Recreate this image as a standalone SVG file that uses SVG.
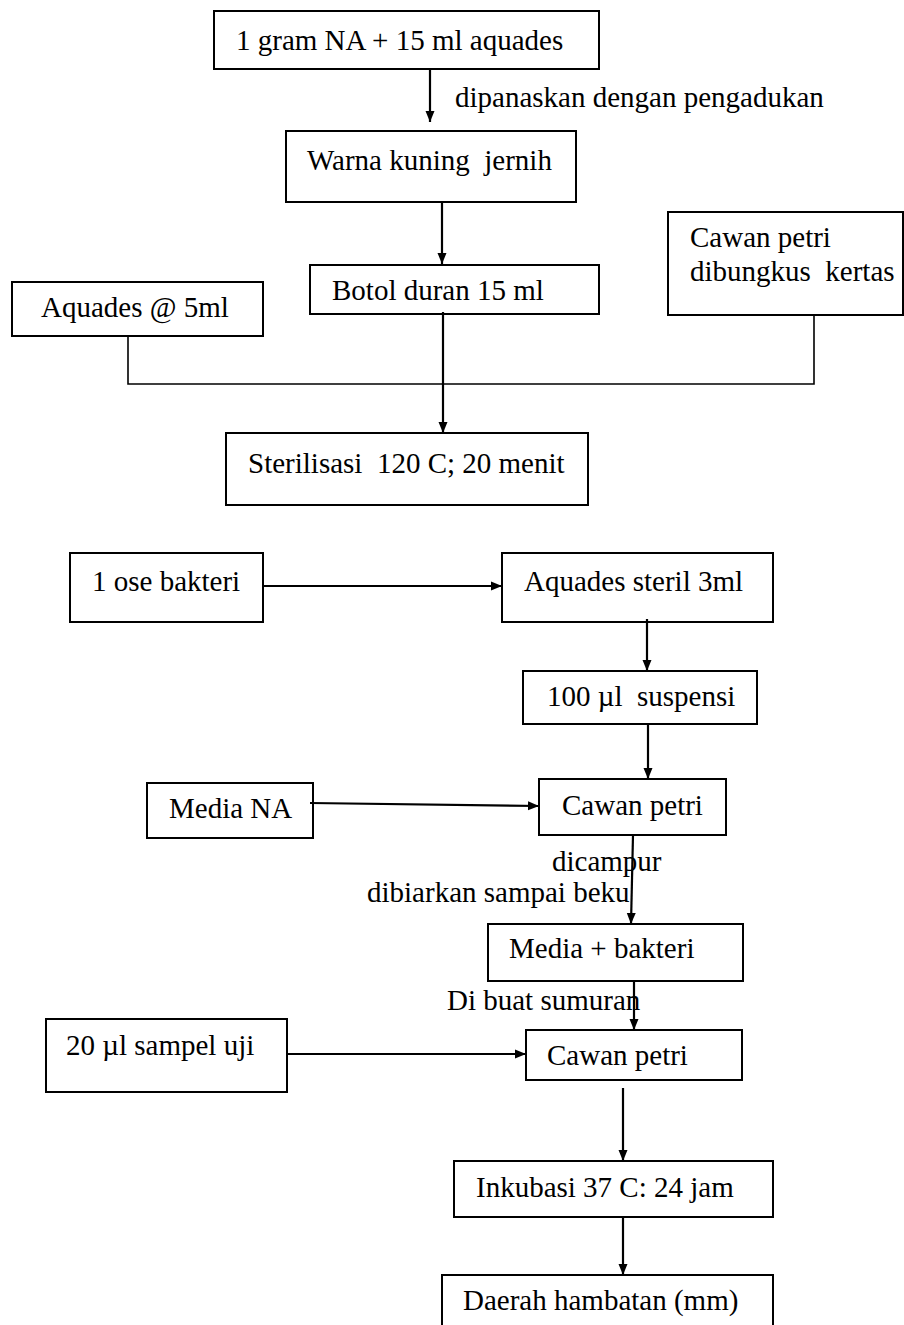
<svg xmlns="http://www.w3.org/2000/svg" width="904" height="1325" viewBox="0 0 904 1325">
<style>
  .box { fill: #ffffff; stroke: #000000; stroke-width: 2; }
  .t { font-family: "Liberation Serif", "Times New Roman", serif; font-size: 29px; fill: #000000; }
  .c { fill: none; stroke: #000000; stroke-width: 2.2; }
  .cl { fill: none; stroke: #000000; stroke-width: 1.6; }
</style>
<defs>
  <marker id="arr" markerUnits="userSpaceOnUse" markerWidth="12" markerHeight="10" refX="11" refY="5" orient="auto">
    <path d="M0,0.5 L11,5 L0,9.5 z" fill="#000000"/>
  </marker>
</defs>
<rect width="904" height="1325" fill="#ffffff"/>

<g id="n1"><rect class="box" x="214" y="11" width="385" height="58"/><text class="t" x="236" y="50">1 gram NA + 15 ml aquades</text></g>
<g id="n2"><rect class="box" x="286" y="131" width="290" height="71"/><text class="t" x="307" y="170" xml:space="preserve">Warna kuning  jernih</text></g>
<g id="n3"><rect class="box" x="310" y="265" width="289" height="49"/><text class="t" x="332" y="300">Botol duran 15 ml</text></g>
<g id="n4"><rect class="box" x="12" y="282" width="251" height="54"/><text class="t" x="41" y="317">Aquades @ 5ml</text></g>
<g id="n5"><rect class="box" x="668" y="212" width="235" height="103"/><text class="t" x="690" y="247">Cawan petri</text><text class="t" x="690" y="281" xml:space="preserve">dibungkus  kertas</text></g>
<g id="n6"><rect class="box" x="226" y="433" width="362" height="72"/><text class="t" x="248" y="473" xml:space="preserve">Sterilisasi  120 C; 20 menit</text></g>
<g id="n7"><rect class="box" x="70" y="553" width="193" height="69"/><text class="t" x="92" y="591">1 ose bakteri</text></g>
<g id="n8"><rect class="box" x="502" y="553" width="271" height="69"/><text class="t" x="524" y="591">Aquades steril 3ml</text></g>
<g id="n9"><rect class="box" x="523" y="671" width="234" height="53"/><text class="t" x="547" y="706" xml:space="preserve">100 µl  suspensi</text></g>
<g id="n10"><rect class="box" x="147" y="783" width="166" height="55"/><text class="t" x="169" y="818">Media NA</text></g>
<g id="n11"><rect class="box" x="539" y="779" width="187" height="56"/><text class="t" x="562" y="815">Cawan petri</text></g>
<g id="n12"><rect class="box" x="488" y="924" width="255" height="57"/><text class="t" x="509" y="958">Media + bakteri</text></g>
<g id="n13"><rect class="box" x="46" y="1019" width="241" height="73"/><text class="t" x="66" y="1055">20 µl sampel uji</text></g>
<g id="n14"><rect class="box" x="526" y="1030" width="216" height="50"/><text class="t" x="547" y="1065">Cawan petri</text></g>
<g id="n15"><rect class="box" x="454" y="1161" width="319" height="56"/><text class="t" x="476" y="1197">Inkubasi 37 C: 24 jam</text></g>
<g id="n16"><rect class="box" x="442" y="1275" width="331" height="60"/><text class="t" x="463" y="1310">Daerah hambatan (mm)</text></g>

<g id="connectors">
  <line class="c" x1="430" y1="69" x2="430" y2="122" marker-end="url(#arr)"/>
  <line class="c" x1="442" y1="202" x2="442" y2="264" marker-end="url(#arr)"/>
  <polyline class="cl" points="128,336 128,384 814,384 814,315"/>
  <line class="c" x1="443" y1="312" x2="443" y2="433" marker-end="url(#arr)"/>
  <line class="c" x1="263" y1="586" x2="502" y2="586" marker-end="url(#arr)"/>
  <line class="c" x1="647" y1="619" x2="647" y2="671" marker-end="url(#arr)"/>
  <line class="c" x1="648" y1="724" x2="648" y2="779" marker-end="url(#arr)"/>
  <line class="c" x1="310" y1="803" x2="539" y2="806" marker-end="url(#arr)"/>
  <line class="c" x1="633" y1="835" x2="631" y2="924" marker-end="url(#arr)"/>
  <line class="c" x1="634" y1="981" x2="634" y2="1030" marker-end="url(#arr)"/>
  <line class="c" x1="287" y1="1054" x2="526" y2="1054" marker-end="url(#arr)"/>
  <line class="c" x1="623" y1="1088" x2="623" y2="1161" marker-end="url(#arr)"/>
  <line class="c" x1="623" y1="1217" x2="623" y2="1275" marker-end="url(#arr)"/>
</g>

<g id="labels">
  <text class="t" x="455" y="107">dipanaskan dengan pengadukan</text>
  <text class="t" x="552" y="871">dicampur</text>
  <text class="t" x="367" y="902">dibiarkan sampai beku</text>
  <text class="t" x="447" y="1010">Di buat sumuran</text>
</g>
</svg>
